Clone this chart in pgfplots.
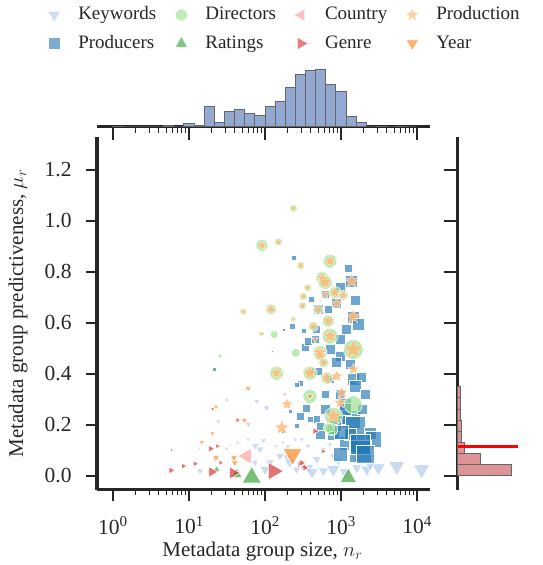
\documentclass[border=0pt]{standalone}
\usepackage{pgfplots}
\pgfplotsset{compat=1.18}
\usepackage{fontspec}
\setmainfont{Liberation Serif}
\definecolor{ckw}{HTML}{AEC7E8}
\definecolor{cpr}{HTML}{1F77B4}
\definecolor{cdi}{HTML}{98DF8A}
\definecolor{cra}{HTML}{2CA02C}
\definecolor{cco}{HTML}{FF9896}
\definecolor{cge}{HTML}{D62728}
\definecolor{cpd}{HTML}{FFBB78}
\definecolor{cye}{HTML}{FF7F0E}
\definecolor{spine}{HTML}{262626}
\definecolor{hblue}{HTML}{93A9D1}
\definecolor{hred}{HTML}{DD9497}

\pgfdeclareplotmark{fstar}{%
  \pgfpathmoveto{\pgfpointpolar{90}{\pgfplotmarksize}}%
  \pgfpathlineto{\pgfpointpolar{126}{0.45\pgfplotmarksize}}%
  \pgfpathlineto{\pgfpointpolar{162}{\pgfplotmarksize}}%
  \pgfpathlineto{\pgfpointpolar{198}{0.45\pgfplotmarksize}}%
  \pgfpathlineto{\pgfpointpolar{234}{\pgfplotmarksize}}%
  \pgfpathlineto{\pgfpointpolar{270}{0.45\pgfplotmarksize}}%
  \pgfpathlineto{\pgfpointpolar{306}{\pgfplotmarksize}}%
  \pgfpathlineto{\pgfpointpolar{342}{0.45\pgfplotmarksize}}%
  \pgfpathlineto{\pgfpointpolar{18}{\pgfplotmarksize}}%
  \pgfpathlineto{\pgfpointpolar{54}{0.45\pgfplotmarksize}}%
  \pgfpathclose
  \pgfusepathqfillstroke}

\pgfplotstableread{
n mu s
16.2 1.264 1.2
1.12 0.410 1
77.8 0.293 3.5
105 0.267 4
24.3 0.213 3
60.3 0.202 3.5
43.5 0.130 2.5
95 0.139 3.5
13.7 0.108 1.8
31.3 0.107 2.5
75 0.117 4.5
86 0.104 4.5
14 0.019 4
248 0.143 3
304 0.143 3
157 0.078 5
195 0.073 5
213 0.052 6
74 0.052 4
261 0.025 5
371 0.032 6
479 0.065 5
585 0.019 6
792 0.025 8
921 0.058 5
1610 0.032 6
2180 0.025 7
3100 0.032 8
5400 0.038 9.5
11500 0.025 9.5
371 0.117 3.5
585 0.104 3.5
792 0.078 4.5
1610 0.065 4.5
2410 0.038 5
116 0.053 5
100 0.025 6
415 0.014 7
1130 0.014 7
59.7 0.143 2.5
34.6 0.120 2
200 0.116 3
20.7 0.139 1.5
716 0.124 3
173 0.131 2.5
140 0.116 2.5
}\kwdata

\pgfplotstableread{
n mu s
236 0.857 2.5
1383 0.764 6
616 0.712 4
878 0.676 5
503 0.653 5
1452 0.624 6
1690 0.594 6
469 0.575 4
319 0.568 2.5
229 0.585 3
178 0.575 1.5
336 0.503 4
372 0.529 4
455 0.535 4
970 0.470 5
878 0.444 5
1313 0.437 5
1452 0.378 6
1873 0.385 5
1528 0.352 6
354 0.267 4
289 0.235 4
479 0.222 4
261 0.195 2.5
530 0.163 5
792 0.163 6
1383 0.222 9
1528 0.195 10
2410 0.169 6
1188 0.130 7
1690 0.130 9
2660 0.143 8
1778 0.097 11
1313 0.163 6
213 0.254 2
174 0.176 2
21.5 0.419 2
125 0.487 1
530 0.195 4
760 0.182 5
970 0.222 5
970 0.320 5
1130 0.280 6
716 0.378 4
616 0.320 4
415 0.410 3
716 0.496 5
1164 0.575 5
970 0.739 5
403 0.692 3
676 0.653 4
500 0.410 4
288 0.365 3
616 0.260 5
832 0.200 6
1130 0.260 6
1900 0.260 5
2080 0.320 5
970 0.535 5
1520 0.690 5
1240 0.816 4
1780 0.123 10
2080 0.084 9
970 0.084 7
1020 0.173 7
390 0.222 3
265 0.357 2.5
}\prdata

\pgfplotstableread{
n mu s
91 0.904 6
150 0.917 4
51.8 0.644 3.5
120 0.653 5.5
236 1.049 4
295 0.825 4
716 0.842 7
567 0.776 6.5
365 0.738 4
318 0.704 4
312 0.667 4
236 0.614 3
90 0.557 3
132 0.555 4
716 0.548 8
1450 0.496 10
254 0.483 4.5
25.5 0.470 2
142 0.403 7
390 0.312 7
1450 0.279 9
795 0.234 9
754 0.182 6
617 0.759 7
832 0.719 6
1070 0.708 5
680 0.607 6
432 0.587 5
528 0.484 7
500 0.653 5
390 0.403 7
648 0.384 6
528 0.475 6
590 0.444 5
680 0.189 5
}\didata

\pgfplotstableread{
n mu s
23.1 0.025 4
42.4 0.006 6.5
66.8 -0.006 11
1247 -0.007 9.5
}\radata

\pgfplotstableread{
n mu s
31.4 0.298 2.5
183 0.320 3
57.4 0.078 9
20.4 0.262 2
}\codata

\pgfplotstableread{
n mu s
5.9 0.101 2
5.8 0.022 4
8.4 0.039 3.5
12 0.048 3.5
20 0.016 6
38 0.012 7
129 0.019 10
19.3 0.107 4
23.6 0.117 3
43.7 0.219 3
20.4 0.263 2.5
26 0.052 3
318 0.039 4
455 0.176 4
585 0.097 3
289 0.045 4
304 0.052 4
336 0.032 4
}\gedata

\pgfplotstableread{
n mu s
91 0.904 5
150 0.917 3.8
51.8 0.644 3.2
120 0.653 5
236 1.049 3.8
295 0.825 3.8
716 0.842 6.2
567 0.776 6.2
365 0.738 3.8
318 0.704 3.8
312 0.667 3.8
236 0.614 2.5
90 0.557 2.5
716 0.548 7.5
1450 0.496 10
142 0.403 6.2
795 0.234 8.8
617 0.759 7.5
832 0.719 6.2
1070 0.708 5
680 0.607 6.2
432 0.587 5
528 0.484 7.5
500 0.653 5
390 0.403 7.5
648 0.384 6.2
528 0.475 6.2
590 0.444 5
1383 0.764 7.5
878 0.676 6.2
1452 0.624 7.5
616 0.712 5
195 0.281 6.2
166 0.189 7.5
970 0.287 6.2
1020 0.326 6.2
878 0.391 6.2
1452 0.418 6.2
}\pddata

\pgfplotstableread{
n mu s
60 0.343 3.5
22.7 0.271 3
53.5 0.218 3.5
20.3 0.166 3
14.7 0.132 3
22.6 0.071 4
39 0.071 4
40 0.052 4
230 0.085 11
390 0.312 3.5
455 0.535 3
}\yedata

\pgfplotsset{
  scat/.style={scatter, only marks, forget plot,
    scatter/use mapped color={draw=white, fill=#1},
    visualization depends on={\thisrow{s}\as\ms},
    scatter/@pre marker code/.append style={/tikz/mark size=\ms}},
}

\begin{document}
\fontsize{19}{23}\selectfont
\color{spine}
\begin{tikzpicture}[x=1pt,y=1pt]
\path[use as bounding box] (0,0) rectangle (543,565);

% main scatter
\begin{axis}[
  at={(97pt,75pt)}, anchor=south west, scale only axis,
  width=333pt, height=353pt,
  xmode=log, xmin=0.616, xmax=14800, ymin=-0.055, ymax=1.329,
  axis x line*=bottom, axis y line*=left,
  axis line style={-, line width=3pt, spine},
  tick align=outside,
  major tick length=11pt, minor tick length=5pt,
  major tick style={line width=1.8pt, spine},
  minor tick style={line width=1pt, spine},
  xtick={1,10,100,1000,10000},
  xticklabels={10\textsuperscript{0},10\textsuperscript{1},10\textsuperscript{2},10\textsuperscript{3},10\textsuperscript{4}},
  ytick={0,0.2,0.4,0.6,0.8,1.0,1.2},
  /pgf/number format/assume math mode=true,
  yticklabel style={/pgf/number format/fixed, /pgf/number format/fixed zerofill, /pgf/number format/precision=1, xshift=-8pt, font=\fontsize{21.5}{24}\selectfont},
  xticklabel style={yshift=-9pt, font=\fontsize{21.5}{24}\selectfont},
  xlabel={Metadata group size, $n_r$},
  ylabel={Metadata group predictiveness, $\mu_r$},
  every axis x label/.style={at={(axis description cs:0.497,-0.188)}, anchor=base, font=\fontsize{21}{24}\selectfont},
  every axis y label/.style={at={(axis description cs:-0.237,0.5)}, rotate=90, anchor=center, font=\fontsize{21}{24}\selectfont},
  legend columns=4,
  legend cell align=left,
  legend style={at={(axis description cs:-0.15,1.373)}, anchor=north west, draw=none, fill=none,
    inner sep=0pt, row sep=9.5pt,
    /tikz/every even column/.append style={column sep=17pt},
    nodes={inner sep=1pt, text height=13pt, text depth=4pt}},
  legend image code/.code={\path[draw=none,fill=none] (0pt,-6pt) rectangle (30pt,6pt); \draw[#1] plot coordinates {(7pt,0pt)};},
  clip=false,
]
\addplot[scat=ckw, mark=triangle*,
  mark options={rotate=180, fill opacity=0.65, line width=0.6pt}] table[x=n,y=mu] {\kwdata};
\addplot[scat=cpr, mark=square*,
  mark options={fill opacity=0.65, line width=0.6pt}] table[x=n,y=mu] {\prdata};
\addplot[scat=cdi, mark=*,
  mark options={fill opacity=0.65, line width=0.6pt}] table[x=n,y=mu] {\didata};
\addplot[scat=cra, mark=triangle*,
  mark options={fill opacity=0.65, line width=0.6pt}] table[x=n,y=mu] {\radata};
\addplot[scat=cco, mark=triangle*,
  mark options={rotate=90, fill opacity=0.65, line width=0.6pt}] table[x=n,y=mu] {\codata};
\addplot[scat=cge, mark=triangle*,
  mark options={rotate=-90, fill opacity=0.65, line width=0.6pt}] table[x=n,y=mu] {\gedata};
\addplot[scat=cpd, mark=fstar,
  mark options={fill opacity=0.85, draw opacity=0.7, line width=0.4pt}] table[x=n,y=mu] {\pddata};
\addplot[scat=cye, mark=triangle*,
  mark options={rotate=180, fill opacity=0.65, line width=0.6pt}] table[x=n,y=mu] {\yedata};

\addlegendimage{only marks, mark=triangle*, mark size=7pt, mark options={rotate=180, fill=ckw, draw=white, fill opacity=0.6}}
\addlegendentry{Keywords}
\addlegendimage{only marks, mark=*, mark size=6pt, mark options={fill=cdi, draw=white, fill opacity=0.6}}
\addlegendentry{Directors}
\addlegendimage{only marks, mark=triangle*, mark size=7pt, mark options={rotate=90, fill=cco, draw=white, fill opacity=0.6}}
\addlegendentry{Country}
\addlegendimage{only marks, mark=fstar, mark size=7pt, mark options={fill=cpd, draw=white, fill opacity=0.7}}
\addlegendentry{Production}
\addlegendimage{only marks, mark=square*, mark size=6pt, mark options={fill=cpr, draw=white, fill opacity=0.6}}
\addlegendentry{Producers}
\addlegendimage{only marks, mark=triangle*, mark size=7pt, mark options={fill=cra, draw=white, fill opacity=0.6}}
\addlegendentry{Ratings}
\addlegendimage{only marks, mark=triangle*, mark size=7pt, mark options={rotate=-90, fill=cge, draw=white, fill opacity=0.6}}
\addlegendentry{Genre}
\addlegendimage{only marks, mark=triangle*, mark size=7pt, mark options={rotate=180, fill=cye, draw=white, fill opacity=0.6}}
\addlegendentry{Year}
\end{axis}

% top histogram
\begin{axis}[
  at={(97pt,438pt)}, anchor=south west, scale only axis,
  width=333pt, height=59pt,
  xmode=log, xmin=0.616, xmax=14800, ymin=0, ymax=170,
  axis x line*=bottom, axis y line=none,
  axis line style={-, line width=3pt, spine},
  tick align=outside,
  major tick length=13pt, minor tick length=6pt,
  major tick style={line width=1.8pt, spine},
  minor tick style={line width=1pt, spine},
  xtick={1,10,100,1000,10000}, xticklabels={},
]
\addplot[ybar interval, fill=hblue, draw=black!60, line width=1pt] coordinates {
(1,2) (1.3594,0) (1.8478,0) (2.5119,0) (3.4145,0) (4.6416,4) (6.3096,0) (8.5770,9)
(11.659,4) (15.849,58) (21.544,14) (29.286,46) (39.811,50) (54.117,38) (73.564,34)
(100,58) (135.94,74) (184.78,115) (251.19,151) (341.45,163) (464.16,167) (630.96,123)
(857.70,102) (1165.9,30) (1584.9,14) (2154.4,0) (2928.6,2) (3981.1,0) (5411.7,2)
(7356.4,0) (10000,0)};
\end{axis}

% right histogram
\begin{axis}[
  at={(457.5pt,75pt)}, anchor=south west, scale only axis,
  width=60pt, height=353pt,
  xmin=0, xmax=180, ymin=-0.055, ymax=1.329,
  axis y line*=left, axis x line=none,
  axis line style={-, line width=3pt, spine},
  tick align=outside,
  major tick length=14pt,
  major tick style={line width=1.8pt, spine},
  ytick={0,0.2,0.4,0.6,0.8,1.0,1.2}, yticklabels={},
  clip=false,
]
\addplot[xbar interval, fill=hred, draw=black!60, line width=1pt] coordinates {
(163,0) (70,0.0437) (20,0.0874) (13,0.1311) (11,0.1748) (10,0.2185) (10,0.2622) (9,0.3059) (0,0.3496)};
\addplot[red, line width=3pt] coordinates {(0,0.117) (180,0.117)};
\end{axis}
\end{tikzpicture}
\end{document}
